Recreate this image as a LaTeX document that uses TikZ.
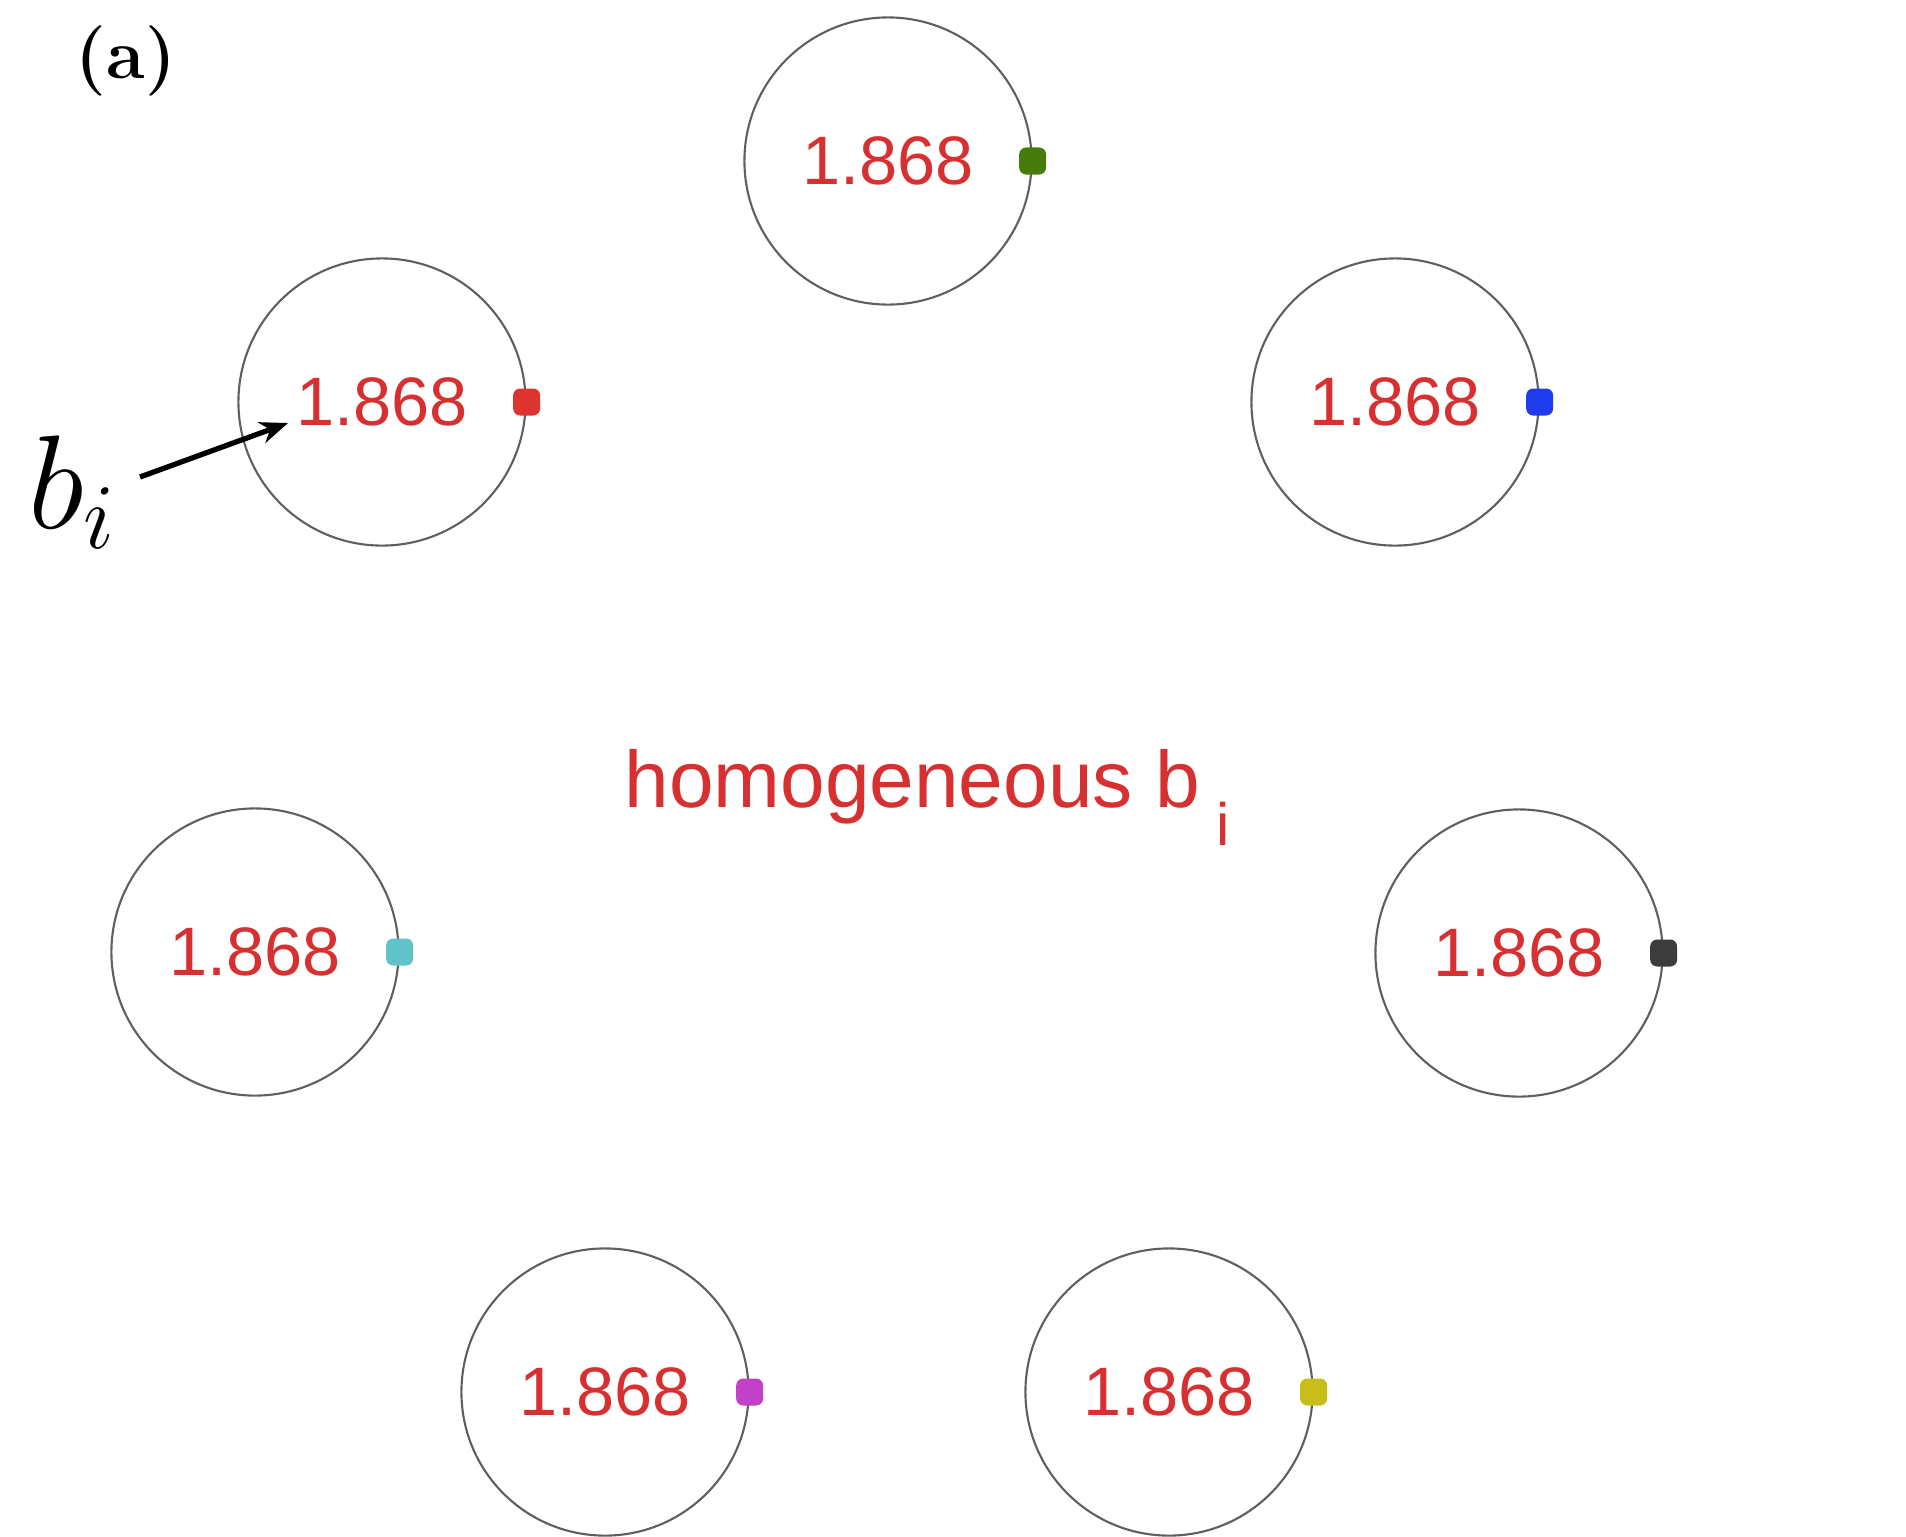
\documentclass[tikz,border=0pt]{standalone}
\usepackage{fontspec}
\newfontfamily\plotfont{Liberation Sans}
\usetikzlibrary{arrows.meta}
\definecolor{valred}{RGB}{214,48,49}
\definecolor{ringgray}{RGB}{95,95,95}
\definecolor{dotgreen}{RGB}{70,125,10}
\definecolor{dotred}{RGB}{222,52,48}
\definecolor{dotblue}{RGB}{30,60,235}
\definecolor{dotcyan}{RGB}{95,195,200}
\definecolor{dotdark}{RGB}{60,60,60}
\definecolor{dotmagenta}{RGB}{195,65,200}
\definecolor{dotyellow}{RGB}{200,190,25}
\tikzset{
  ring/.style={circle, draw=ringgray, line width=0.6pt, minimum size=2.87cm,
    inner sep=0pt, text=valred, font=\plotfont\fontsize{19.5}{23}\selectfont},
  marker/.style={rectangle, rounded corners=2pt, minimum size=0.27cm, inner sep=0pt},
}

\begin{document}
\begin{tikzpicture}[x=0.01cm, y=-0.01cm]
  \useasboundingbox (0,0) rectangle (1906,1536);
  % panel label
  \node[font=\fontsize{20}{24}\selectfont\bfseries] (panel) at (126,61) {(a)};
  % rings with their values
  \foreach \n/\x/\y/\c in {top/888/161/dotgreen, ul/382/402/dotred, ur/1395/402/dotblue,
      ml/255/952/dotcyan, mr/1519/953/dotdark, bl/605/1392/dotmagenta, br/1169/1392/dotyellow} {
    \node[ring] (\n) at (\x,\y) {1.868};
    \node[marker, fill=\c] (\n-dot) at (\n.east) {};
  }
  % centre caption
  \node[anchor=base west, inner sep=0pt, text=valred, font=\plotfont\fontsize{22.8}{27}\selectfont]
    (caption) at (624,807) {homogeneous b\hspace{0.17cm}\raisebox{-0.38cm}{\fontsize{17}{20}\selectfont i}};
  % pointer to b_i
  \node[anchor=base west, inner sep=0pt, scale=1.83, font=\fontsize{20.74}{25}\selectfont] (bi) at (27,528) {$b_i$};
  \coordinate (bi-tail) at (140,477);
  \coordinate (bi-tip) at (288,423);
  \draw[-{Stealth[length=0.28cm, width=0.22cm]}, line width=1.5pt] (bi-tail) -- (bi-tip);
\end{tikzpicture}
\end{document}
